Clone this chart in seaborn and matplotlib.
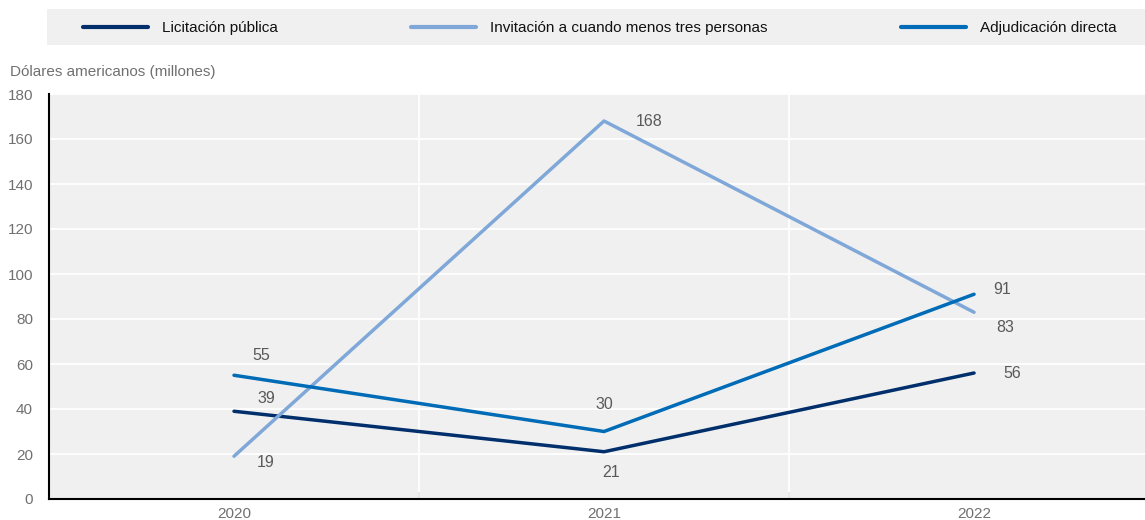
import matplotlib
matplotlib.use("Agg")
import matplotlib.pyplot as plt
import seaborn as sns
import pandas as pd
from matplotlib.patches import Rectangle
from matplotlib.ticker import FixedLocator

years = ["2020", "2021", "2022"]
series_names = ["Licitación pública", "Invitación a cuando menos tres personas", "Adjudicación directa"]
licitacion = [39, 21, 56]
invitacion = [19, 168, 83]
adjudicacion = [55, 30, 91]
colors = ["#002F6C", "#7FA8D9", "#006BB6"]

values = [licitacion, invitacion, adjudicacion]
rows = []
for name, vals in zip(series_names, values):
    for i, v in enumerate(vals):
        rows.append({"x": i, "value": v, "serie": name})
df = pd.DataFrame(rows)

sns.set_theme(style="white")
plt.rcParams["font.family"] = ["Liberation Sans", "DejaVu Sans"]

W, H = 1145, 520
fig = plt.figure(figsize=(W / 100, H / 100), dpi=100)
ax = fig.add_axes([49 / W, 1 - 499 / H, 1096 / W, 405 / H])
ax.set_facecolor("#F0F0F0")

sns.lineplot(data=df, x="x", y="value", hue="serie", hue_order=series_names,
             palette=colors, linewidth=2.5, ax=ax, legend=False, zorder=3)

ax.set_xlim(-0.5, 2.462)
ax.set_ylim(0, 180)
ax.set_yticks(range(0, 181, 20))
ax.yaxis.grid(True, color="white", linewidth=1.3)
for xv in [0.5, 1.5]:
    ax.axvline(xv, color="white", linewidth=1.3, zorder=1)
ax.set_axisbelow(True)

ax.xaxis.set_major_locator(FixedLocator([0.5, 1.5, 2.5]))
ax.set_xticklabels([])
ax.xaxis.set_minor_locator(FixedLocator([0, 1, 2]))
ax.set_xticklabels(years, minor=True)
ax.tick_params(axis="x", which="major", direction="in", length=5, width=1.3, color="black", bottom=True)
ax.tick_params(axis="x", which="minor", length=0, pad=6, labelsize=11, labelcolor="#707070")
ax.tick_params(axis="y", length=0, pad=11.5, labelsize=11, labelcolor="#707070")

ax.set_xlabel("")
ax.set_ylabel("")
for s in ["top", "right"]:
    ax.spines[s].set_visible(False)
for s in ["left", "bottom"]:
    ax.spines[s].set_color("black")
    ax.spines[s].set_linewidth(1.5)

offsets = {
    0: [(32, 13), (7, -21), (38, -1)],
    1: [(32, -6), (45, -1), (31, -15)],
    2: [(27, 20), (0, 27), (28, 5)],
}
for si, vals in enumerate(values):
    for i, v in enumerate(vals):
        ax.annotate(str(v), (i, v), xytext=offsets[si][i], textcoords="offset pixels",
                    ha="center", va="center", fontsize=11.5, color="#595959", zorder=5)

fig.text(10 / W, 1 - 72 / H, "Dólares americanos (millones)", ha="left", va="center",
         fontsize=11, color="#707070")

fig.patches.append(Rectangle((47 / W, 1 - 45 / H), (W - 47) / W, 36 / H,
                             transform=fig.transFigure, facecolor="#F0F0F0",
                             edgecolor="none", zorder=0))
handles = [plt.Line2D([], [], color=c, linewidth=3) for c in colors]
fig.legend(handles, series_names, loc="center left", bbox_to_anchor=(83 / W, 1 - 28 / H),
           ncol=3, frameon=False, fontsize=11, handlelength=4.25, handletextpad=0.9,
           columnspacing=8.75, borderaxespad=0, borderpad=0, labelcolor="#111111")

fig.savefig("out.png", dpi=100)
